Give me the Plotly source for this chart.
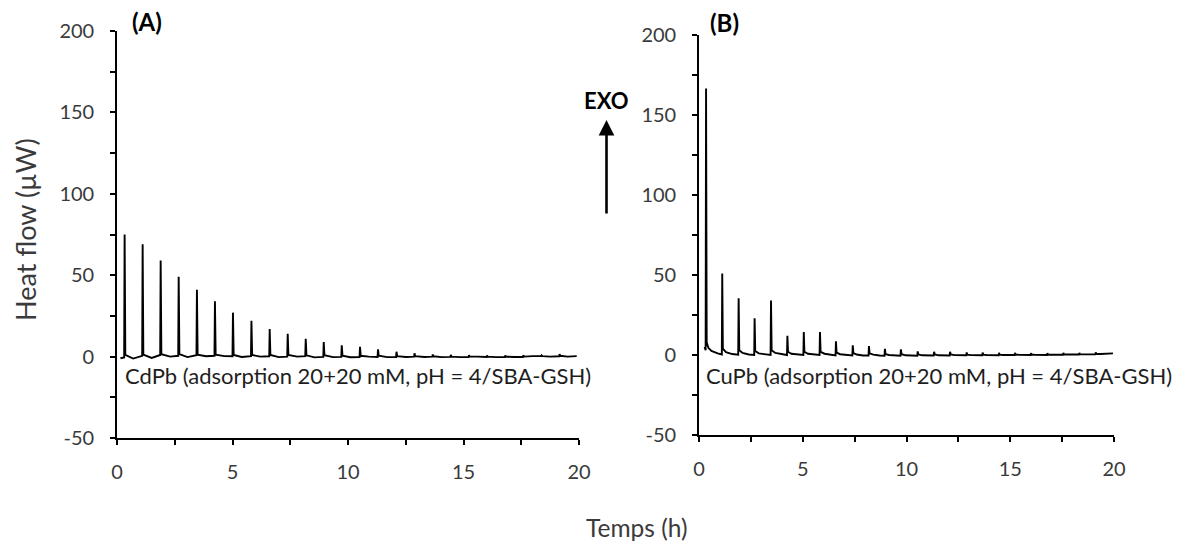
import plotly.graph_objects as go

# ---------------- data ----------------
x_ticks = [0, 5, 10, 15, 20]
y_ticks = [-50, 0, 50, 100, 150, 200]
y_tick_labels = ["-50", "0", "50", "100", "150", "200"]

# Panel A : CdPb
left_time = [
    0.15, 0.31, 0.33, 0.36, 0.70,
    1.09, 1.11, 1.14, 1.50,
    1.87, 1.89, 1.92, 2.30,
    2.65, 2.67, 2.70, 3.05,
    3.44, 3.46, 3.49, 3.85,
    4.22, 4.24, 4.27, 4.65,
    5.00, 5.02, 5.05, 5.40,
    5.80, 5.82, 5.85, 6.20,
    6.59, 6.61, 6.64, 7.00,
    7.37, 7.39, 7.42, 7.80,
    8.15, 8.17, 8.20, 8.55,
    8.93, 8.95, 8.98, 9.35,
    9.71, 9.73, 9.76, 10.10,
    10.50, 10.52, 10.55, 10.90,
    11.28, 11.30, 11.33, 11.70,
    12.08, 12.10, 12.13, 12.50,
    12.86, 12.88, 12.91, 13.30,
    13.65, 13.67, 13.70, 14.05,
    14.43, 14.45, 14.48, 14.85,
    15.22, 15.24, 15.27, 15.60,
    16.00, 16.02, 16.05, 16.40,
    16.79, 16.81, 16.84, 17.20,
    17.57, 17.59, 17.62, 18.00,
    18.36, 18.38, 18.41, 18.75,
    19.14, 19.16, 19.19, 19.50, 19.90,
]
left_heat = [
    -1.0, -0.5, 75.0, 1.0, -1.2,
    0.5, 69.0, 1.2, -0.8,
    1.0, 59.0, 1.5, 0.0,
    0.5, 49.0, 1.5, -0.3,
    0.8, 41.0, 1.2, 0.2,
    0.5, 34.0, 1.2, 0.3,
    0.2, 27.0, 1.0, -0.2,
    0.3, 22.0, 1.0, 0.0,
    0.2, 17.0, 1.0, -0.3,
    0.0, 14.0, 1.0, 0.0,
    0.3, 11.0, 0.8, -0.5,
    -0.2, 9.0, 0.8, -0.3,
    -0.2, 7.0, 0.6, -0.4,
    -0.3, 6.0, 0.5, 0.0,
    -0.2, 4.5, 0.5, -0.3,
    -0.3, 3.0, 0.3, -0.2,
    0.0, 2.0, 0.3, -0.2,
    0.0, 1.3, 0.2, -0.3,
    -0.2, 1.0, 0.0, -0.3,
    -0.3, 0.8, 0.0, 0.0,
    -0.2, 0.6, 0.0, -0.3,
    -0.3, 0.6, 0.0, -0.2,
    -0.2, 0.8, 0.0, 0.3,
    0.3, 0.8, 0.3, 0.0,
    0.2, 1.5, 0.5, 0.0, 0.3,
]

# Panel B : CuPb
right_time = [
    0.27, 0.32, 0.34, 0.37, 0.45, 0.60, 0.90,
    1.10, 1.12, 1.15, 1.30, 1.60,
    1.89, 1.91, 1.94, 2.10, 2.40,
    2.66, 2.68, 2.71, 2.88, 3.20,
    3.45, 3.47, 3.50, 3.68, 4.00,
    4.24, 4.26, 4.29, 4.45, 4.80,
    5.03, 5.05, 5.08, 5.25, 5.60,
    5.81, 5.83, 5.86, 6.05, 6.35,
    6.58, 6.60, 6.63, 6.80, 7.10,
    7.39, 7.41, 7.44, 7.60, 7.90,
    8.17, 8.19, 8.22, 8.40, 8.70,
    8.94, 8.96, 8.99, 9.15, 9.45,
    9.71, 9.73, 9.76, 9.95, 10.25,
    10.52, 10.54, 10.57, 10.75, 11.05,
    11.31, 11.33, 11.36, 11.55, 11.85,
    12.08, 12.10, 12.13, 12.30, 12.60,
    12.88, 12.90, 12.93, 13.10, 13.40,
    13.65, 13.67, 13.70, 13.85, 14.15,
    14.44, 14.46, 14.49, 14.65, 14.95,
    15.21, 15.23, 15.26, 15.45, 15.75,
    15.98, 16.00, 16.03, 16.20, 16.50,
    16.77, 16.79, 16.82, 17.00, 17.30,
    17.54, 17.56, 17.59, 17.75, 18.05,
    18.31, 18.33, 18.36, 18.55, 18.85,
    19.10, 19.12, 19.15, 19.35, 19.95,
]
right_heat = [
    5.0, 3.0, 166.6, 8.0, 4.5, 2.5, 1.0,
    0.3, 51.0, 4.0, 1.8, 0.6,
    0.2, 35.5, 3.0, 1.3, 0.3,
    0.0, 23.0, 2.5, 1.0, 0.2,
    0.0, 34.0, 3.0, 1.3, 0.3,
    0.0, 12.0, 2.0, 0.8, 0.1,
    0.0, 14.4, 2.0, 0.8, 0.1,
    0.0, 14.4, 2.0, 0.8, 0.0,
    -0.2, 8.6, 1.5, 0.5, 0.0,
    -0.3, 6.0, 1.2, 0.3, -0.3,
    -0.3, 5.6, 1.0, 0.2, -0.3,
    -0.5, 3.8, 0.6, 0.0, -0.3,
    -0.5, 3.5, 0.5, -0.2, -0.4,
    -0.5, 2.3, 0.3, -0.2, -0.3,
    -0.3, 2.0, 0.3, -0.2, -0.3,
    -0.3, 2.0, 0.3, -0.1, -0.2,
    -0.2, 1.6, 0.2, -0.1, -0.2,
    -0.2, 1.5, 0.2, 0.0, -0.2,
    -0.2, 1.3, 0.2, 0.0, -0.1,
    0.0, 1.3, 0.3, 0.1, 0.0,
    0.0, 1.2, 0.3, 0.1, 0.0,
    0.0, 1.2, 0.3, 0.2, 0.2,
    0.2, 1.3, 0.4, 0.3, 0.3,
    0.3, 1.3, 0.5, 0.4, 0.4,
    0.4, 1.6, 0.7, 0.6, 1.0,
]

label_a = "CdPb (adsorption 20+20 mM, pH = 4/SBA-GSH)"
label_b = "CuPb (adsorption 20+20 mM, pH = 4/SBA-GSH)"

# ---------------- figure ----------------
W, H = 1188, 542
OFF = 8  # page body margin
FONT = "Lato, Open Sans, sans-serif"
TXT = "#3a3a3a"
LBL = "#1e1e1e"


def px(x):
    return (x - OFF) / W


def py(y):
    return 1 - (y - OFF) / H


fig = go.Figure()
fig.add_trace(go.Scatter(x=left_time, y=left_heat, mode="lines",
                         line=dict(color="black", width=1.9),
                         xaxis="x", yaxis="y", showlegend=False))
fig.add_trace(go.Scatter(x=right_time, y=right_heat, mode="lines",
                         line=dict(color="black", width=1.9),
                         xaxis="x2", yaxis="y2", showlegend=False))

axis_common = dict(showgrid=False, zeroline=False, showline=True,
                   automargin=False,
                   linecolor="black", linewidth=1.6, ticks="outside",
                   ticklen=5, tickwidth=1.5, tickcolor="black",
                   tickfont=dict(family=FONT, size=20, color=TXT))
xminor = dict(dtick=2.5, ticks="outside", ticklen=5, tickwidth=1.5,
              tickcolor="black")
yminor = dict(dtick=25, ticks="outside", ticklen=5, tickwidth=1.5,
              tickcolor="black")

fig.update_layout(
    template="none",
    width=W, height=H, autosize=False,
    margin=dict(l=0, r=0, t=0, b=0, pad=0),
    paper_bgcolor="white", plot_bgcolor="white",
    xaxis=dict(axis_common, domain=[px(117), px(579)], range=[0, 20],
               tickvals=x_ticks, anchor="y", ticklabelstandoff=10,
               minor=xminor),
    yaxis=dict(axis_common, domain=[py(438), py(31)], range=[-50, 200],
               tickvals=y_ticks, ticktext=y_tick_labels, anchor="x",
               ticklabelstandoff=12, minor=yminor),
    xaxis2=dict(axis_common, domain=[px(699), px(1114)], range=[0, 20],
                tickvals=x_ticks, anchor="y2", ticklabelstandoff=10,
                minor=xminor),
    yaxis2=dict(axis_common, domain=[py(435), py(35)], range=[-50, 200],
                tickvals=y_ticks, ticktext=y_tick_labels, anchor="x2",
                ticklabelstandoff=12, minor=yminor),
)


def note(text, x, y, size, color=TXT, **kw):
    d = dict(text=text, x=px(x), y=py(y), xref="paper", yref="paper",
             showarrow=False, xanchor="center", yanchor="middle",
             font=dict(family=FONT, size=size, color=color))
    d.update(kw)
    return d


ann = [
    note("Heat flow (µW)", 25, 230, 27, textangle=-90),
    note("Temps (h)", 637, 527, 24.5),
    note("<b>(A)</b>", 147, 21, 24, color="black"),
    note("<b>(B)</b>", 725, 23, 24, color="black"),
    note(label_a, 123, 375, 22, color=LBL, xanchor="left"),
    note(label_b, 704, 375, 22, color=LBL, xanchor="left"),
    note("<b>EXO</b>", 606, 100, 22, color="black"),
    dict(text="", x=px(606.5), y=py(120), xref="paper", yref="paper",
         ax=0, ay=95, axref="pixel", ayref="pixel",
         showarrow=True, arrowhead=2, arrowsize=1.2, arrowwidth=2.6,
         arrowcolor="black"),
]
fig.update_layout(annotations=ann)

fig.write_html("out.html")
